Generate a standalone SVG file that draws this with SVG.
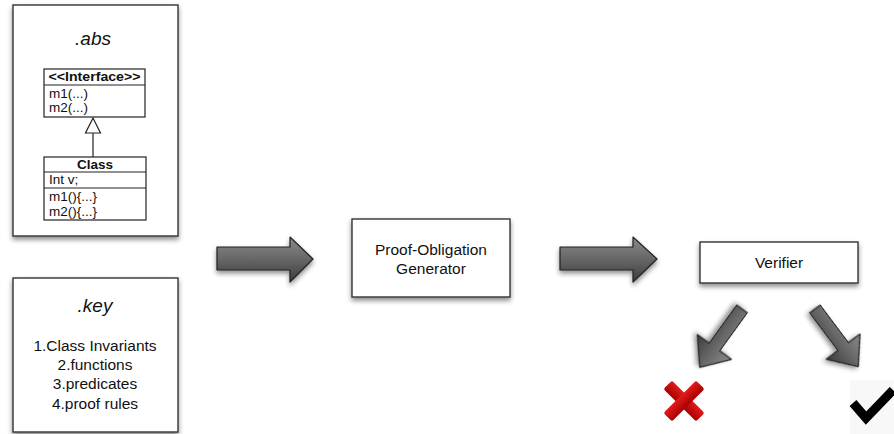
<svg xmlns="http://www.w3.org/2000/svg" width="894" height="434" viewBox="0 0 894 434">
<defs>
<filter id="sh" x="-10%" y="-10%" width="120%" height="130%">
<feDropShadow dx="0" dy="3" stdDeviation="2.5" flood-color="#000" flood-opacity="0.45"/>
</filter>
<linearGradient id="ag" x1="0" y1="0" x2="0" y2="1">
<stop offset="0" stop-color="#8a8a8a"/>
<stop offset="0.5" stop-color="#666"/>
<stop offset="1" stop-color="#3c3c3c"/>
</linearGradient>
<linearGradient id="rg" x1="0" y1="0" x2="0" y2="1">
<stop offset="0" stop-color="#e41c1c"/>
<stop offset="1" stop-color="#a80000"/>
</linearGradient>
<polygon id="darr" points="0,-6.5 47,-6.5 47,-21 72,0 47,21 47,6.5 0,6.5"/>
</defs>
<style>
.box{fill:#fff;stroke:#333;stroke-width:1.4;filter:url(#sh)}
.uml{fill:#fff;stroke:#222;stroke-width:1.2}
.arr{fill:url(#ag);stroke:#222;stroke-width:1.2;stroke-linejoin:round;filter:url(#sh)}
text{font-family:"Liberation Sans",Arial,sans-serif;fill:#111}
.title{font-size:19px;font-style:italic;text-anchor:middle}
.lbl{font-size:15.5px;text-anchor:middle}
.u{font-size:13.5px}
.ub{font-size:13.5px;font-weight:bold;text-anchor:middle}
</style>
<rect width="894" height="434" fill="#fff"/>

<g id="abs">
<rect class="box" x="13" y="5" width="165" height="231"/>
<text class="title" x="93" y="45">.abs</text>
<g id="interface">
<rect class="uml" x="44" y="69" width="101" height="48"/>
<line x1="44" y1="85" x2="145" y2="85" stroke="#222" stroke-width="1.2"/>
<text class="ub" x="94.5" y="81" textLength="92" lengthAdjust="spacingAndGlyphs">&lt;&lt;Interface&gt;&gt;</text>
<text class="u" x="49" y="98">m1(...)</text>
<text class="u" x="49" y="112">m2(...)</text>
</g>
<g id="class">
<rect class="uml" x="44" y="157" width="102" height="63"/>
<line x1="44" y1="172" x2="146" y2="172" stroke="#222" stroke-width="1.2"/>
<line x1="44" y1="188" x2="146" y2="188" stroke="#222" stroke-width="1.2"/>
<text class="ub" x="95" y="169">Class</text>
<text class="u" x="49" y="184">Int v;</text>
<text class="u" x="49" y="201">m1(){...}</text>
<text class="u" x="49" y="216">m2(){...}</text>
</g>
<g id="inherit">
<line x1="93" y1="133" x2="93" y2="157" stroke="#222" stroke-width="1.2"/>
<polygon points="93,118 85.5,133 100.5,133" fill="#fff" stroke="#222" stroke-width="1.2"/>
</g>
</g>

<g id="key">
<rect class="box" x="13" y="278" width="165" height="154"/>
<text class="title" x="95" y="312">.key</text>
<text class="lbl" x="95" y="351">1.Class Invariants</text>
<text class="lbl" x="95" y="370">2.functions</text>
<text class="lbl" x="95" y="389">3.predicates</text>
<text class="lbl" x="95" y="409">4.proof rules</text>
</g>

<g id="pog">
<rect class="box" x="352" y="219" width="158" height="78"/>
<text class="lbl" x="431" y="255">Proof-Obligation</text>
<text class="lbl" x="431" y="274">Generator</text>
</g>

<g id="verifier">
<rect class="box" x="700" y="242" width="158" height="41"/>
<text class="lbl" x="779" y="268">Verifier</text>
</g>

<g id="connectors">
<polygon class="arr" points="217,247 290,247 290,237 313,259 290,282 290,270 217,270"/>
<polygon class="arr" points="560,247 633,247 633,237 657,259 633,282 633,270 560,270"/>
<use href="#darr" class="arr" transform="translate(742,309) rotate(125.9)"/>
<use href="#darr" class="arr" transform="translate(815,309) rotate(53.1)"/>
</g>

<g id="fail">
<rect x="661" y="395" width="46" height="12" rx="2" fill="url(#rg)" transform="rotate(45 684 401)"/>
<rect x="661" y="395" width="46" height="12" rx="2" fill="url(#rg)" transform="rotate(-45 684 401)"/>
</g>

<g id="pass">
<rect x="850" y="380" width="44" height="54" fill="#f8f8f8"/>
<polyline points="853,403 866,418 893,390" fill="none" stroke="#000" stroke-width="9"/>
</g>
</svg>
